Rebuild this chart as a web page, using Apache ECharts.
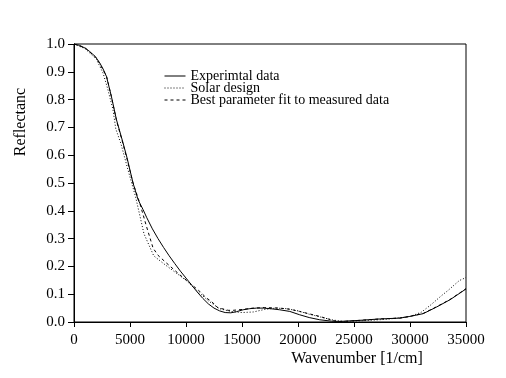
<!DOCTYPE html>
<html>
<head>
<meta charset="utf-8">
<script src="https://cdn.jsdelivr.net/npm/echarts@6/dist/echarts.min.js"></script>
<style>
  html, body { margin: 0; padding: 0; background: #fff; }
  #chart { width: 506px; height: 378px; }
</style>
</head>
<body>
<div id="chart"></div>
<script>
// [wavenumber, reflectance] pairs
const experimentalData = [
  [0, 1.0], [500, 0.995], [1000, 0.985], [1400, 0.973], [1900, 0.955], [2300, 0.932],
  [2600, 0.91], [2900, 0.883], [3340, 0.811], [3790, 0.728], [4380, 0.644], [4740, 0.59],
  [5270, 0.5], [5720, 0.44], [6170, 0.404], [6500, 0.375], [7000, 0.335], [7500, 0.3],
  [8000, 0.268], [8500, 0.238], [9000, 0.21], [9500, 0.183], [10000, 0.158], [10500, 0.133],
  [11000, 0.108], [11500, 0.085], [12000, 0.065], [12500, 0.05], [13000, 0.04], [13500, 0.034],
  [14000, 0.033], [14500, 0.037], [15100, 0.044], [15700, 0.048], [16300, 0.05], [16900, 0.05],
  [17500, 0.048], [18360, 0.044], [19270, 0.038], [20150, 0.026], [21000, 0.016], [21940, 0.008],
  [23000, 0.003], [23730, 0.002], [25520, 0.006], [27310, 0.011], [29100, 0.014], [29970, 0.02],
  [31180, 0.03], [32380, 0.054], [33570, 0.08], [34460, 0.104], [35000, 0.119]
];
const solarDesignData = [
  [0, 1.0], [1000, 0.983], [2000, 0.945], [2590, 0.896], [3000, 0.84], [3480, 0.764],
  [3730, 0.695], [4200, 0.64], [4800, 0.55], [5500, 0.45], [6250, 0.317], [7120, 0.238],
  [8000, 0.21], [9000, 0.18], [10000, 0.15], [11000, 0.112], [12000, 0.076], [13000, 0.048],
  [14000, 0.038], [15000, 0.034], [16000, 0.036], [17000, 0.045], [18000, 0.05], [19000, 0.048],
  [20000, 0.04], [21000, 0.028], [22000, 0.018], [23000, 0.008], [24000, 0.002], [26000, 0.005],
  [28000, 0.01], [30000, 0.02], [31000, 0.035], [31780, 0.059], [32820, 0.095], [33410, 0.114],
  [34400, 0.149], [35000, 0.16]
];
const bestFitData = [
  [0, 1.0], [1000, 0.986], [2000, 0.95], [2900, 0.885], [3340, 0.81], [3790, 0.725],
  [4380, 0.64], [4740, 0.585], [5270, 0.5], [5870, 0.428], [6470, 0.344], [7060, 0.266],
  [7500, 0.24], [8260, 0.212], [9440, 0.17], [10340, 0.14], [11230, 0.11], [11830, 0.086],
  [12280, 0.074], [12870, 0.05], [13310, 0.047], [13760, 0.042], [14210, 0.042], [15000, 0.045],
  [16000, 0.05], [17000, 0.052], [18360, 0.05], [19270, 0.046], [20150, 0.038], [21940, 0.02],
  [23440, 0.002], [24500, 0.003], [25520, 0.006], [27310, 0.011], [29100, 0.014], [29970, 0.02],
  [31180, 0.031], [32380, 0.055], [33570, 0.081], [34460, 0.105], [35000, 0.12]
];
const seriesNames = ['Experimtal data', 'Solar design', 'Best parameter fit to measured data'];
const xTicks = { min: 0, max: 35000, step: 5000 };
const yTicks = { min: 0, max: 1, step: 0.1 };

const font = 'Liberation Serif';
const chart = echarts.init(document.getElementById('chart'));

function lineSeries(name, data, type) {
  return {
    name,
    type: 'line',
    data,
    symbol: 'none',
    lineStyle: { color: '#000', width: 1, type },
    itemStyle: { color: '#000' },
    animation: false
  };
}

chart.setOption({
  animation: false,
  grid: {
    left: 74, right: 40, top: 44, bottom: 56,
    show: true, borderColor: '#000', borderWidth: 1
  },
  legend: {
    orient: 'vertical',
    left: 164, top: 69, padding: 0,
    itemWidth: 21, itemHeight: 11, itemGap: -2,
    itemStyle: { opacity: 0 },
    lineStyle: { width: 1 },
    textStyle: { fontFamily: font, fontSize: 14, color: '#000', lineHeight: 11 },
    data: seriesNames.map(n => ({ name: n }))
  },
  xAxis: {
    type: 'value',
    min: xTicks.min, max: xTicks.max, interval: xTicks.step,
    axisLine: { lineStyle: { color: '#000', width: 1 } },
    axisTick: { length: 5, lineStyle: { color: '#000' } },
    axisLabel: { color: '#000', fontFamily: font, fontSize: 15, margin: 11,
      formatter: v => String(v) },
    splitLine: { show: false }
  },
  yAxis: {
    type: 'value',
    min: yTicks.min, max: yTicks.max, interval: yTicks.step,
    axisLine: { show: true, lineStyle: { color: '#000', width: 1 } },
    axisTick: { show: true, length: 6, lineStyle: { color: '#000' } },
    axisLabel: { color: '#000', fontFamily: font, fontSize: 15, margin: 9,
      formatter: v => v.toFixed(1) },
    splitLine: { show: false }
  },
  graphic: [
    { type: 'text', x: 357, y: 359,
      style: { text: 'Wavenumber [1/cm]', fontFamily: font, fontSize: 16, fill: '#000',
        align: 'center', verticalAlign: 'middle' } },
    { type: 'text', x: 21, y: 122, rotation: Math.PI / 2,
      style: { text: 'Reflectanc', fontFamily: font, fontSize: 16, fill: '#000',
        align: 'center', verticalAlign: 'middle' } }
  ],
  series: [
    lineSeries(seriesNames[0], experimentalData, 'solid'),
    lineSeries(seriesNames[1], solarDesignData, [1, 2]),
    lineSeries(seriesNames[2], bestFitData, [3, 3])
  ]
});
</script>
</body>
</html>
